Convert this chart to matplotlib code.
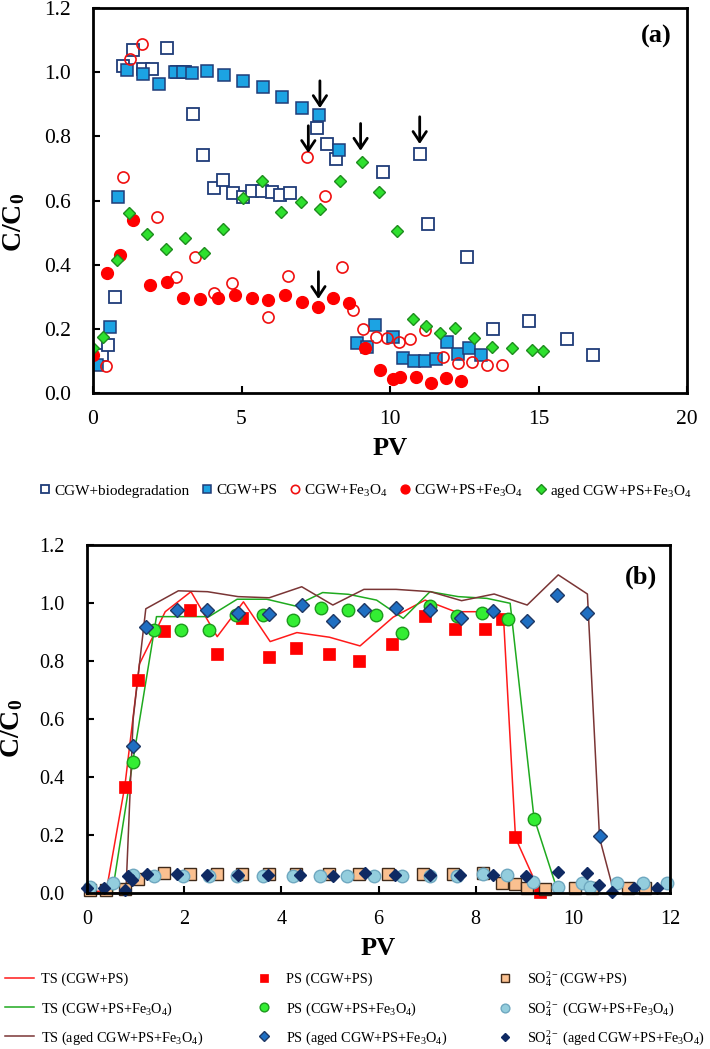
import matplotlib
matplotlib.use("Agg")
import matplotlib.pyplot as plt

plt.rcParams["font.family"] = ["Liberation Serif", "DejaVu Serif"]
plt.rcParams["mathtext.fontset"] = "custom"
plt.rcParams["mathtext.rm"] = "Liberation Serif"
plt.rcParams["mathtext.it"] = "Liberation Serif:italic"
plt.rcParams["mathtext.bf"] = "Liberation Serif:bold"

# ---- panel (a) data ----
bio_pv = [0.0, 0.3, 0.5, 0.74, 1.0, 1.36, 1.7, 1.98, 2.48, 2.82, 3.1, 3.38, 3.71,
          4.08, 4.39, 4.72, 5.06, 5.34, 5.68, 6.02, 6.3, 6.63, 7.53, 7.87, 8.18,
          9.75, 11.0, 11.29, 12.58, 13.46, 14.69, 15.95, 16.82]
bio_c = [0.10, 0.12, 0.15, 0.30, 1.02, 1.07, 1.01, 1.01, 1.075, 1.0, 1.0, 0.87, 0.742,
         0.638, 0.664, 0.622, 0.612, 0.63, 0.63, 0.627, 0.617, 0.622, 0.825, 0.776, 0.728,
         0.69, 0.745, 0.527, 0.425, 0.20, 0.224, 0.167, 0.117]

ps_pv = [0.12, 0.57, 0.85, 1.13, 1.69, 2.23, 2.76, 3.02, 3.32, 3.85, 4.42, 5.06, 5.71,
         6.35, 7.03, 7.62, 8.29, 8.88, 9.21, 9.49, 10.11, 10.45, 10.81, 11.18, 11.55,
         11.93, 12.3, 12.67, 13.05]
ps_c = [0.087, 0.207, 0.61, 1.007, 0.994, 0.963, 1.0, 1.0, 0.998, 1.004, 0.99, 0.974, 0.953,
        0.924, 0.887, 0.866, 0.757, 0.157, 0.144, 0.212, 0.174, 0.11, 0.10, 0.10, 0.105,
        0.16, 0.122, 0.139, 0.118]

fe_pv = [0.44, 1.0, 1.25, 1.64, 2.14, 2.79, 3.43, 4.08, 4.67, 5.9, 6.58, 7.22, 7.81,
         8.37, 8.74, 9.1, 9.53, 9.89, 10.31, 10.67, 11.18, 11.8, 12.3, 12.75, 13.25, 13.78]
fe_c = [0.084, 0.672, 1.04, 1.088, 0.55, 0.363, 0.425, 0.313, 0.344, 0.238, 0.365, 0.735, 0.614,
        0.392, 0.259, 0.20, 0.176, 0.17, 0.16, 0.167, 0.196, 0.113, 0.094, 0.098, 0.087, 0.087]

psfe_pv = [0.01, 0.46, 0.91, 1.36, 1.92, 2.48, 3.02, 3.6, 4.22, 4.78, 5.34, 5.9, 6.46,
           7.03, 7.59, 8.09, 8.63, 9.16, 9.66, 10.11, 10.34, 10.88, 11.37, 11.89, 12.38]
psfe_c = [0.118, 0.375, 0.43, 0.539, 0.337, 0.347, 0.297, 0.293, 0.295, 0.305, 0.295, 0.29, 0.305,
          0.285, 0.269, 0.297, 0.28, 0.139, 0.072, 0.043, 0.051, 0.049, 0.032, 0.046, 0.037]

aged_pv = [0.0, 0.33, 0.8, 1.22, 1.81, 2.45, 3.1, 3.75, 4.39, 5.04, 5.68, 6.33, 7.0,
           7.64, 8.32, 9.05, 9.64, 10.25, 10.76, 11.21, 11.68, 12.19, 12.83, 13.45,
           14.12, 14.77, 15.14]
aged_c = [0.139, 0.176, 0.415, 0.56, 0.495, 0.449, 0.482, 0.435, 0.512, 0.607, 0.662, 0.563, 0.594,
          0.573, 0.662, 0.721, 0.627, 0.505, 0.231, 0.209, 0.186, 0.202, 0.172, 0.144,
          0.141, 0.134, 0.132]

# arrows: x position and height of the tip
arrow_pv = [7.25, 7.64, 7.59, 9.01, 11.0]
arrow_tip = [0.748, 0.888, 0.293, 0.755, 0.776]

labels_a = ["CGW+biodegradation", "CGW+PS", "CGW+Fe$_3$O$_4$",
            "CGW+PS+Fe$_3$O$_4$", "aged CGW+PS+Fe$_3$O$_4$"]

# ---- panel (b) data ----
ts1_pv = [0.0, 0.4, 0.78, 1.08, 1.61, 2.14, 2.68, 3.22, 3.77, 4.32, 4.99, 5.62, 6.3,
          6.96, 7.58, 8.19, 8.57, 8.82, 9.33]
ts1_c = [0.0, 0.01, 0.37, 0.79, 0.97, 1.039, 0.884, 1.004, 0.867, 0.898, 0.882, 0.852, 0.951,
         1.01, 0.97, 0.97, 0.959, 0.19, 0.0]
ts2_pv = [0.0, 0.52, 0.94, 1.43, 1.93, 2.51, 3.09, 3.7, 4.28, 4.85, 5.38, 5.96, 6.51,
          7.06, 7.64, 8.23, 8.71, 9.2, 9.7]
ts2_c = [0.0, 0.0, 0.45, 0.953, 0.953, 0.953, 1.013, 1.013, 0.99, 1.036, 1.03, 1.01, 0.947,
         1.039, 1.022, 1.016, 0.999, 0.26, 0.0]
ts3_pv = [0.0, 0.8, 0.95, 1.21, 1.88, 2.48, 3.11, 3.75, 4.42, 5.06, 5.7, 6.36, 7.07,
          7.71, 8.38, 9.06, 9.7, 10.3, 10.55, 10.85]
ts3_c = [0.0, 0.0, 0.6, 0.98, 1.042, 1.039, 1.022, 1.018, 1.056, 0.993, 1.047, 1.047, 1.039,
         1.008, 1.031, 0.993, 1.097, 1.031, 0.19, 0.0]

ps1_pv = [0.78, 1.06, 1.59, 2.12, 2.67, 3.2, 3.75, 4.3, 4.98, 5.6, 6.27, 6.96, 7.58,
          8.19, 8.54, 8.81, 9.33]
ps1_c = [0.367, 0.734, 0.904, 0.976, 0.824, 0.947, 0.813, 0.844, 0.824, 0.80, 0.857, 0.956, 0.909,
         0.91, 0.945, 0.192, 0.005]
ps2_pv = [0.94, 1.38, 1.93, 2.51, 3.07, 3.63, 4.25, 4.81, 5.38, 5.95, 6.48, 7.05, 7.61,
          8.14, 8.67, 9.2]
ps2_c = [0.453, 0.907, 0.907, 0.907, 0.959, 0.959, 0.941, 0.984, 0.975, 0.959, 0.898, 0.99, 0.956,
         0.964, 0.945, 0.255]
ps3_pv = [0.94, 1.21, 1.85, 2.48, 3.11, 3.75, 4.42, 5.06, 5.7, 6.36, 7.06, 7.69, 8.36,
          9.05, 9.68, 10.29, 10.55]
ps3_c = [0.507, 0.918, 0.976, 0.976, 0.964, 0.962, 0.993, 0.938, 0.976, 0.982, 0.976, 0.947, 0.973,
         0.939, 1.028, 0.967, 0.197]

so1_pv = [0.06, 0.4, 0.78, 1.06, 1.59, 2.12, 2.67, 3.2, 3.75, 4.3, 4.98, 5.6, 6.2,
          6.92, 7.53, 8.16, 8.54, 8.81, 9.05, 9.43, 10.05, 10.4, 11.14, 11.49]
so1_c = [0.01, 0.01, 0.014, 0.05, 0.07, 0.066, 0.066, 0.066, 0.066, 0.066, 0.066, 0.066, 0.066,
         0.066, 0.066, 0.07, 0.033, 0.031, 0.016, 0.013, 0.016, 0.016, 0.016, 0.016]
so2_pv = [0.06, 0.54, 0.95, 1.38, 1.98, 2.51, 3.08, 3.63, 4.25, 4.8, 5.35, 5.9, 6.48,
          7.05, 7.61, 8.16, 8.64, 9.19, 9.7, 10.18, 10.35, 10.9, 11.45, 11.93]
so2_c = [0.02, 0.036, 0.062, 0.06, 0.059, 0.059, 0.059, 0.06, 0.059, 0.059, 0.059, 0.059, 0.057,
         0.06, 0.06, 0.066, 0.062, 0.039, 0.02, 0.036, 0.02, 0.036, 0.036, 0.033]
so3_pv = [0.0, 0.34, 0.78, 0.85, 0.92, 1.23, 1.85, 2.46, 3.11, 3.73, 4.38, 5.07, 5.72,
          6.34, 7.06, 7.68, 8.36, 9.04, 9.7, 10.29, 10.53, 10.8, 11.25, 11.73]
so3_c = [0.017, 0.017, 0.01, 0.06, 0.045, 0.066, 0.066, 0.062, 0.062, 0.062, 0.062, 0.059, 0.07,
         0.062, 0.062, 0.062, 0.062, 0.059, 0.073, 0.07, 0.028, 0.005, 0.016, 0.016]

labels_ts = ["TS (CGW+PS)", "TS (CGW+PS+Fe$_3$O$_4$)", "TS (aged CGW+PS+Fe$_3$O$_4$)"]
labels_ps = ["PS (CGW+PS)", "PS (CGW+PS+Fe$_3$O$_4$)", "PS (aged CGW+PS+Fe$_3$O$_4$)"]
labels_so = ["SO$_4^{2-}$(CGW+PS)", "SO$_4^{2-}$ (CGW+PS+Fe$_3$O$_4$)",
             "SO$_4^{2-}$ (aged CGW+PS+Fe$_3$O$_4$)"]

W, H = 710, 1049


def style_axes(ax, size):
    for s in ax.spines.values():
        s.set_linewidth(2.0)
    ax.tick_params(direction="in", length=5, width=1.5, labelsize=size,
                   top=False, right=False)
    ax.tick_params(axis="y", pad=16)
    ax.tick_params(axis="x", pad=12)
    ax.set_ylabel(r"C/C$_\mathbf{0}$", fontsize=20, fontweight="bold")
    ax.set_xlabel("PV", fontsize=19, fontweight="bold")


fig = plt.figure(figsize=(W / 100, H / 100), dpi=100)

# ---------------- panel (a) ----------------
ax = fig.add_axes([93 / W, 1 - 393 / H, 594 / W, 385 / H])
h1, = ax.plot(bio_pv, bio_c, ls="none", marker="s", ms=8, mfc="white",
              mec="#1F3C78", mew=1.3)
h2, = ax.plot(ps_pv, ps_c, ls="none", marker="s", ms=8.5, mfc="#1CA3E3",
              mec="#1F3C78", mew=1.1)
h3, = ax.plot(fe_pv, fe_c, ls="none", marker="o", ms=8, mfc="none",
              mec="#F01010", mew=1.2)
h4, = ax.plot(psfe_pv, psfe_c, ls="none", marker="o", ms=8.5, mfc="#FF0000",
              mec="#FF0000", mew=1)
h5, = ax.plot(aged_pv, aged_c, ls="none", marker="D", ms=6.3, mfc="#2EE02E",
              mec="#1E8C1E", mew=1)
for x, tip in zip(arrow_pv, arrow_tip):
    ax.annotate("", xy=(x, tip), xytext=(x, tip + 0.085),
                arrowprops=dict(arrowstyle="->,head_length=0.6,head_width=0.4",
                                lw=2, color="black", shrinkA=0, shrinkB=0,
                                mutation_scale=12))
ax.set_xlim(0, 20)
ax.set_ylim(0, 1.2)
ax.set_xticks([0, 5, 10, 15, 20])
ax.set_yticks([0, 0.2, 0.4, 0.6, 0.8, 1.0, 1.2])
ax.yaxis.set_major_formatter(matplotlib.ticker.FormatStrFormatter("%.1f"))
style_axes(ax, 15.5)
ax.yaxis.set_label_coords(-0.111, 0.444)
ax.xaxis.set_label_coords(0.5, -0.114)
ax.text(0.949, 0.925, "(a)", transform=ax.transAxes, ha="center", va="center",
        fontsize=19, fontweight="bold")

fig.legend([h1, h2, h3, h4, h5], labels_a, loc="center",
           bbox_to_anchor=(366 / W, 1 - 491 / H), ncol=5, frameon=False,
           fontsize=11, handlelength=0.6, handletextpad=0.3, columnspacing=0.85,
           markerscale=0.75, borderpad=0)

# ---------------- panel (b) ----------------
bx = fig.add_axes([87 / W, 1 - 893 / H, 583 / W, 348 / H])
l1, = bx.plot(ts1_pv, ts1_c, color="#FF1A1A", lw=1.1)
l2, = bx.plot(ts2_pv, ts2_c, color="#1FAA1F", lw=1.1)
l3, = bx.plot(ts3_pv, ts3_c, color="#7A3535", lw=1.1)
m1, = bx.plot(ps1_pv, ps1_c, ls="none", marker="s", ms=8.6, mfc="#FF0000",
              mec="#FF0000", mew=0.5, clip_on=False)
m2, = bx.plot(ps2_pv, ps2_c, ls="none", marker="o", ms=9, mfc="#33EE33",
              mec="#1E991E", mew=1, clip_on=False)
m3, = bx.plot(ps3_pv, ps3_c, ls="none", marker="D", ms=6.8, mfc="#1F6FC2",
              mec="#1F3864", mew=1, clip_on=False)
s1, = bx.plot(so1_pv, so1_c, ls="none", marker="s", ms=8.5, mfc="#FAC090",
              mec="#3F2A1A", mew=1, clip_on=False)
s2, = bx.plot(so2_pv, so2_c, ls="none", marker="o", ms=9, mfc="#93CDDD",
              mec="#6FA8C0", mew=1, clip_on=False)
s3, = bx.plot(so3_pv, so3_c, ls="none", marker="D", ms=6.5, mfc="#0F2A63",
              mec="#0F2A63", mew=1, clip_on=False)
bx.set_xlim(0, 12)
bx.set_ylim(0, 1.2)
bx.set_xticks(range(0, 13, 2))
bx.set_yticks([0, 0.2, 0.4, 0.6, 0.8, 1.0, 1.2])
bx.yaxis.set_major_formatter(matplotlib.ticker.FormatStrFormatter("%.1f"))
style_axes(bx, 14.5)
bx.yaxis.set_label_coords(-0.106, 0.474)
bx.xaxis.set_label_coords(0.5, -0.126)
bx.text(0.950, 0.908, "(b)", transform=bx.transAxes, ha="center", va="center",
        fontsize=19, fontweight="bold")

# legend of (b): one entry per legend so the rows line up across columns
rows_y = [979, 1009, 1038]
cols = [([l1, l2, l3], labels_ts, 5, 1.0),
        ([m1, m2, m3], labels_ps, 250, 0.7),
        ([s1, s2, s3], labels_so, 491, 0.7)]
for handles, labels, x0, mscale in cols:
    for hnd, lab, y0 in zip(handles, labels, rows_y):
        fig.legend([hnd], [lab], loc="center left",
                   bbox_to_anchor=(x0 / W, 1 - y0 / H), frameon=False,
                   fontsize=10.3, borderpad=0, borderaxespad=0,
                   handlelength=2.0, handletextpad=0.5, markerscale=mscale)

fig.savefig("out.png", dpi=100)
